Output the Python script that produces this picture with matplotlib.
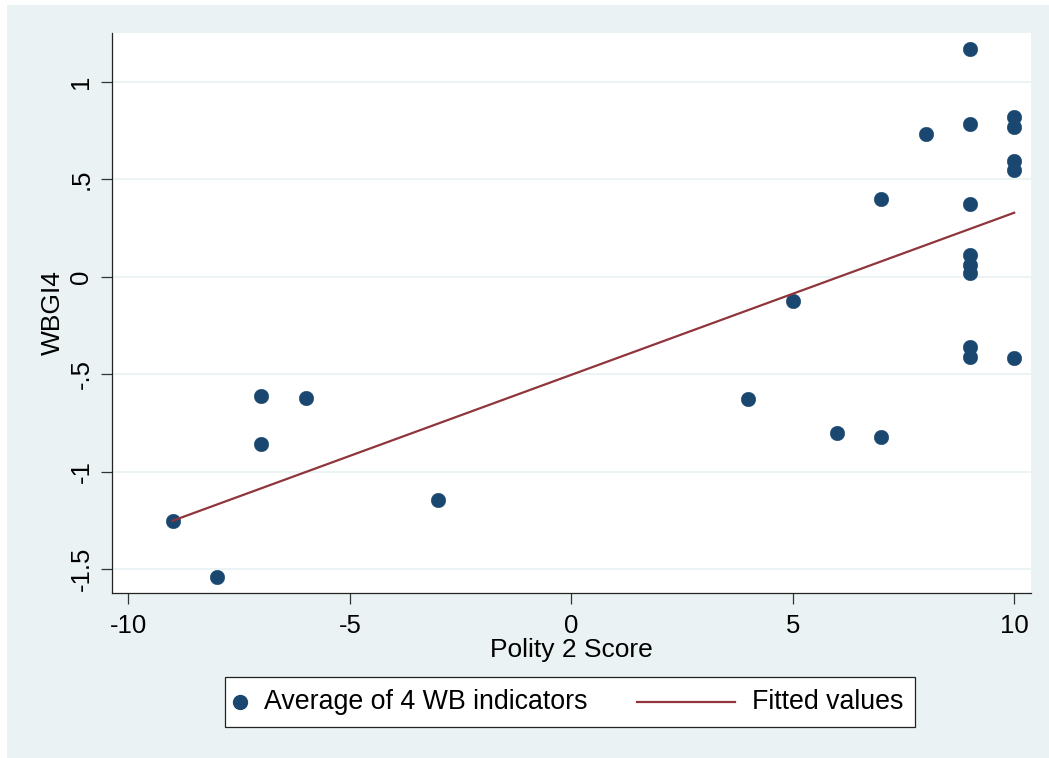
import matplotlib
matplotlib.use("Agg")
import matplotlib.pyplot as plt
from matplotlib.patches import Rectangle
from matplotlib.lines import Line2D

plt.rcParams['font.family'] = ['Liberation Sans', 'DejaVu Sans']

# Data
polity = [-9, -8, -7, -7, -6, -3, 4, 5, 6, 7, 7, 8,
          9, 9, 9, 9, 9, 9, 9, 9,
          10, 10, 10, 10, 10]
wbgi4 = [-1.251, -1.538, -0.613, -0.858, -0.624, -1.145, -0.627, -0.123, -0.802, 0.400, -0.824, 0.730,
         1.168, 0.783, 0.373, 0.111, 0.060, 0.021, -0.360, -0.413,
         0.817, 0.769, 0.593, 0.546, -0.419]
fit_x = [-9, 10]
fit_y = [-1.251, 0.328]

x_ticks = [-10, -5, 0, 5, 10]
x_ticklabels = ["-10", "-5", "0", "5", "10"]
y_ticks = [-1.5, -1, -0.5, 0, 0.5, 1]
y_ticklabels = ["-1.5", "-1", "-.5", "0", ".5", "1"]
legend_labels = ["Average of 4 WB indicators", "Fitted values"]

BG = "#EAF2F3"
NAVY = "#1A476F"
MAROON = "#90353B"
W, H = 1049, 758

fig = plt.figure(figsize=(W/100, H/100), dpi=100, facecolor="white")
fig.patches.append(Rectangle((7/W, 0), 1, (H-5)/H, transform=fig.transFigure,
                             facecolor=BG, edgecolor="none", zorder=-10))

ax = fig.add_axes([112/W, 1-592.7/H, (1031-112)/W, (592.7-32.7)/H])
ax.set_facecolor("white")

ax.scatter(polity, wbgi4, s=110, color=NAVY, edgecolors=NAVY, linewidths=0.3, zorder=3)
ax.plot(fit_x, fit_y, color=MAROON, lw=1.6, zorder=4)

ax.set_xlim(-10.37, 10.38)
ax.set_ylim(-1.62, 1.251)
ax.set_xticks(x_ticks)
ax.set_xticklabels(x_ticklabels)
ax.set_yticks(y_ticks)
ax.set_yticklabels(y_ticklabels, rotation=90, va="center", ha="center")

ax.grid(axis="y", color=BG, lw=1.3, zorder=0)
ax.grid(axis="x", visible=False)
for s in ["top", "right"]:
    ax.spines[s].set_visible(False)
for s in ["left", "bottom"]:
    ax.spines[s].set_color("#222222")
    ax.spines[s].set_linewidth(0.9)

ax.tick_params(axis="both", length=8, width=0.9, color="#333333", labelsize=18.5, direction="out")
ax.tick_params(axis="x", pad=7)
ax.tick_params(axis="y", pad=14)

ax.set_xlabel("Polity 2 Score", fontsize=19, labelpad=0)
ax.set_ylabel("WBGI4", fontsize=19, labelpad=3)

# Legend (Stata style box)
def fx(px):
    return px / W

def fy(py):
    return 1 - py / H

fig.patches.append(Rectangle((fx(225), fy(727)), fx(915) - fx(225), fy(677) - fy(727),
                             transform=fig.transFigure, facecolor="white",
                             edgecolor="#222222", lw=0.9, zorder=5))
ly = fy(702)
fig.lines.append(Line2D([fx(240)], [ly], marker="o", linestyle="none", color=NAVY,
                        markersize=10, transform=fig.transFigure, zorder=6))
fig.text(fx(264), ly, legend_labels[0], fontsize=19.3, va="center", ha="left", zorder=6)
fig.lines.append(Line2D([fx(637), fx(735)], [ly, ly], color=MAROON, lw=1.6,
                        transform=fig.transFigure, zorder=6))
fig.text(fx(752), ly, legend_labels[1], fontsize=19.3, va="center", ha="left", zorder=6)

fig.savefig("out.png", dpi=100, facecolor=fig.get_facecolor())
